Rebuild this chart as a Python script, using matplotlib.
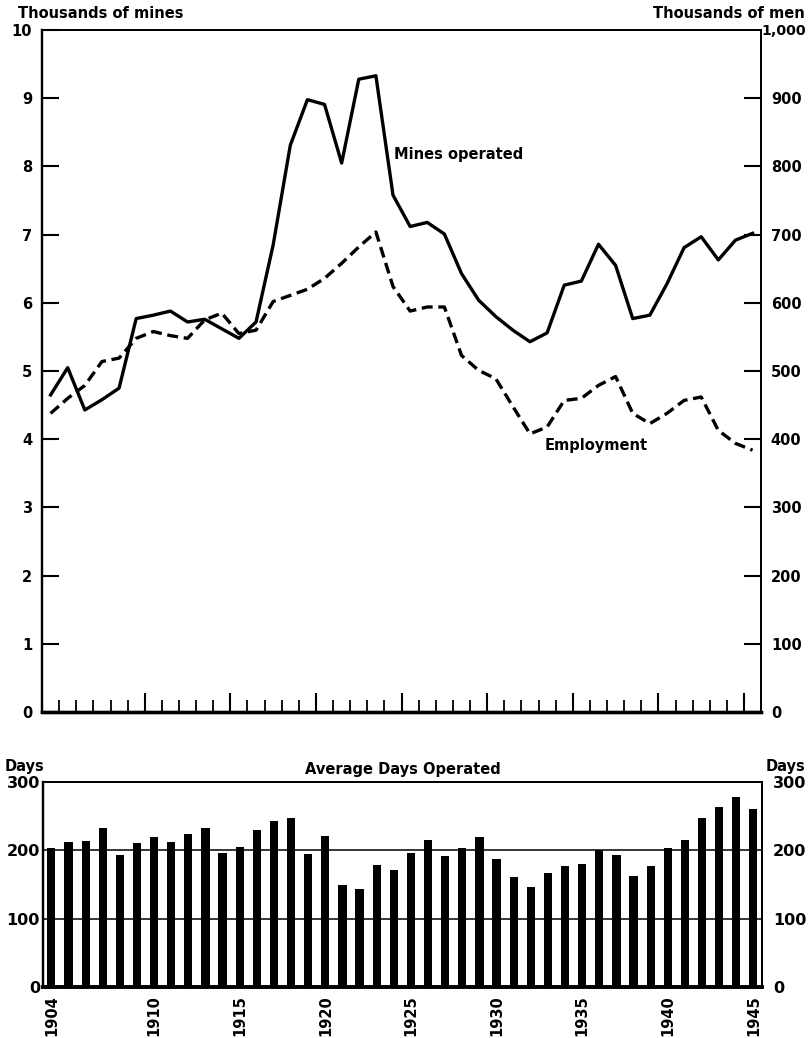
import matplotlib.pyplot as plt

# years 1904-1945
years = list(range(1904, 1946))

# thousands of mines operated
mines = [4.65, 5.05, 4.43, 4.58, 4.75, 5.77, 5.82, 5.88, 5.72, 5.76,
         5.62, 5.48, 5.72, 6.85, 8.31, 8.98, 8.91, 8.05, 9.28, 9.33,
         7.58, 7.12, 7.18, 7.01, 6.43, 6.04, 5.80, 5.60, 5.43, 5.56,
         6.26, 6.32, 6.86, 6.55, 5.77, 5.82, 6.28, 6.81, 6.97, 6.63,
         6.92, 7.02]

# thousands of men employed
employment = [438, 460, 479, 514, 519, 548, 558, 552, 548, 575,
              585, 555, 560, 602, 611, 620, 636, 658, 682, 704,
              624, 588, 594, 594, 523, 501, 489, 448, 408, 418,
              457, 460, 479, 492, 438, 423, 438, 457, 462, 413,
              394, 384]

# average days operated
days = [204, 212, 214, 233, 194, 211, 219, 213, 224, 233,
        196, 205, 230, 243, 248, 195, 221, 149, 143, 179,
        171, 196, 216, 192, 204, 219, 187, 161, 146, 167,
        178, 180, 201, 194, 162, 178, 203, 216, 247, 263,
        278, 260]

left_ticks = list(range(0, 11))
right_ticks = list(range(0, 901, 100))
right_labels = ['0', '100', '200', '300', '400', '500', '600', '700', '800', '900']
day_ticks = [0, 100, 200, 300]
year_labels = [1904, 1910, 1915, 1920, 1925, 1930, 1935, 1940, 1945]

plt.rcParams['font.family'] = ['DejaVu Sans']
plt.rcParams['font.weight'] = 'bold'
fs = 10.5

fig = plt.figure(figsize=(8.08, 10.38), dpi=100)

# верхний график
ax = fig.add_axes([0.052, 0.314, 0.89, 0.657])
ax2 = ax.twinx()
ax.plot(years, mines, color='black', lw=2.4)
ax2.plot(years, employment, color='black', lw=2.4, dashes=(3.3, 1.7))

ax.set_xlim(1903.5, 1945.5)
ax.set_ylim(0, 10)
ax2.set_ylim(0, 1000)
ax.set_yticks(left_ticks)
ax2.set_yticks(right_ticks)
ax2.set_yticklabels(right_labels)

major_x = [1909.5 + 5 * i for i in range(8)]
minor_x = [y + 0.5 for y in range(1904, 1945) if y + 0.5 not in major_x]
ax.set_xticks(major_x)
ax.set_xticks(minor_x, minor=True)
ax.tick_params(axis='x', which='major', direction='in', length=14, width=1.5, labelbottom=False)
ax.tick_params(axis='x', which='minor', direction='in', length=8.5, width=1.3)
ax.tick_params(axis='y', direction='in', length=12, width=1.5, labelsize=fs, pad=7)
ax2.tick_params(axis='y', direction='in', length=12, width=1.5, labelsize=fs, pad=7)

for a in (ax, ax2):
    a.spines['left'].set_linewidth(1.6)
    a.spines['right'].set_linewidth(1.4)
    a.spines['top'].set_linewidth(1.3)
    a.spines['bottom'].set_linewidth(2.4)

ax.text(1924.05, 8.17, 'Mines operated', fontsize=fs, va='center', ha='left')
ax.text(1932.87, 3.91, 'Employment', fontsize=fs, va='center', ha='left')
fig.text(18 / 808, 1 - 14 / 1038, 'Thousands of mines', fontsize=fs, va='center', ha='left')
fig.text(805 / 808, 1 - 14 / 1038, 'Thousands of men', fontsize=fs, va='center', ha='right')
fig.text(806 / 808, 1 - 31 / 1038, '1,000', fontsize=10.2, va='center', ha='right')

# нижний график
bx = fig.add_axes([0.053, 0.049, 0.89, 0.1975])
bx2 = bx.twinx()
bx.bar(years, days, width=0.48, color='black', zorder=3)
bx.set_xlim(1903.5, 1945.5)
bx.set_ylim(0, 300)
bx2.set_ylim(0, 300)
bx.set_yticks(day_ticks)
bx2.set_yticks(day_ticks)
bx.yaxis.grid(True, color='black', lw=1.1)
bx.set_xticks(year_labels)
bx.set_xticklabels([str(y) for y in year_labels], rotation=90)
bx.tick_params(axis='x', length=0, labelsize=fs, pad=6)
bx.tick_params(axis='y', length=0, labelsize=fs + 1, pad=2)
bx2.tick_params(axis='y', length=0, labelsize=fs + 1, pad=8)

for a in (bx, bx2):
    a.spines['left'].set_linewidth(1.6)
    a.spines['right'].set_linewidth(1.4)
    a.spines['top'].set_linewidth(1.3)
    a.spines['bottom'].set_linewidth(2.6)

bx.set_title('Average Days Operated', fontsize=fs, fontweight='bold', pad=6)
fig.text(5 / 808, 1 - 767 / 1038, 'Days', fontsize=fs, va='center', ha='left')
fig.text(805 / 808, 1 - 767 / 1038, 'Days', fontsize=fs, va='center', ha='right')

fig.savefig('out.png', dpi=100)
